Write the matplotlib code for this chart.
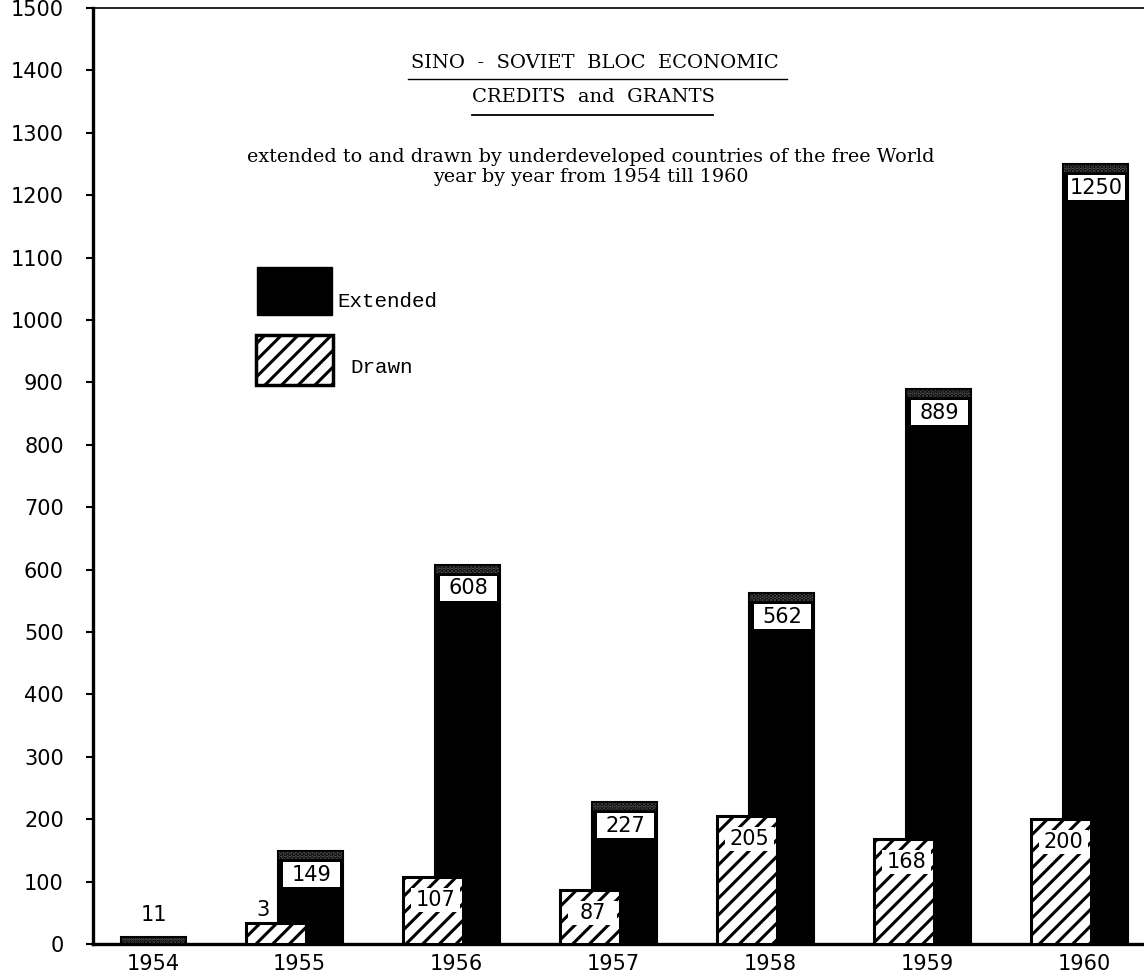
import numpy as np
import matplotlib
matplotlib.use("Agg")
import matplotlib.pyplot as plt
from matplotlib.patches import Rectangle

years = ["1954", "1955", "1956", "1957", "1958", "1959", "1960"]
extended = [11, 149, 608, 227, 562, 889, 1250]
drawn = [0, 33, 107, 87, 205, 168, 200]
drawn_text = ["", "3", "107", "87", "205", "168", "200"]
extended_text = ["11", "149", "608", "227", "562", "889", "1250"]
yticks = list(range(0, 1501, 100))

plt.rcParams["hatch.linewidth"] = 2.2

fig = plt.figure(figsize=(11.44, 9.74), dpi=100)
ax = fig.add_axes([93 / 1144, 30 / 974, 1051 / 1144, 936 / 974])

x = np.arange(len(years))
w_ext, w_dr = 0.41, 0.38
off_ext, off_dr = 0.102, -0.118
px = 1500 / 936  # data units per pixel (vertical)

# extended bars (behind)
ax.bar(x + off_ext, extended, width=w_ext, color="black", edgecolor="black",
       linewidth=1.5, zorder=2)
for xi, v in zip(x, extended):
    band = min(v, 9 * px)
    ax.add_patch(Rectangle((xi + off_ext - w_ext / 2, v - band), w_ext, band,
                           facecolor="#555555", edgecolor="black", linewidth=1.2,
                           hatch="....", zorder=3))

# drawn bars (in front)
ax.bar(x + off_dr, drawn, width=w_dr, color="white", edgecolor="black",
       hatch="//", linewidth=2.2, zorder=4)

# value boxes
for xi, v, t in zip(x, extended, extended_text):
    if v < 50:
        ax.text(xi + off_ext, v + 12 * px, t, ha="center", va="bottom",
                fontsize=15, zorder=6)
        continue
    left = xi + off_ext - w_ext / 2 + 0.03
    top = v - 11 * px
    h = 25 * px
    ax.add_patch(Rectangle((left, top - h), w_ext - 0.05, h, facecolor="white",
                           edgecolor="none", zorder=5))
    ax.text(left + (w_ext - 0.05) / 2, top - h / 2, t, ha="center", va="center",
            fontsize=15, zorder=6)

for xi, v, t in zip(x, drawn, drawn_text):
    if not t:
        continue
    if v < 50:
        ax.text(xi + off_dr - 0.08, v + 3 * px, t, ha="center", va="bottom",
                fontsize=15, zorder=6)
        continue
    left = xi + off_dr - w_dr / 2 + 0.05
    top = v - 11 * px
    h = 24 * px
    ax.add_patch(Rectangle((left, top - h), w_dr - 0.07, h, facecolor="white",
                           edgecolor="none", zorder=5))
    ax.text(left + (w_dr - 0.07) / 2, top - h / 2, t, ha="center", va="center",
            fontsize=15, zorder=6)

ax.set_xlim(-0.283, 6.41)
ax.set_ylim(0, 1500)
ax.set_yticks(yticks)
ax.set_yticklabels([str(t) for t in yticks], fontsize=15)
xt = x + 0.03
xt[0] = x[0] + off_ext
ax.set_xticks(xt)
ax.set_xticklabels(years, fontsize=15)
ax.tick_params(axis="y", direction="out", length=5, width=1.5, pad=16)
ax.tick_params(axis="x", length=0, pad=7)

ax.spines["right"].set_visible(False)
ax.spines["left"].set_linewidth(2.4)
ax.spines["bottom"].set_linewidth(2.4)
ax.spines["top"].set_linewidth(1.2)

# title block
serif = "DejaVu Serif"
ax.text(0.4776, 0.9412, "SINO  -  SOVIET  BLOC  ECONOMIC", transform=ax.transAxes,
        ha="center", va="center", fontsize=14, family=serif)
ax.plot([0.2997, 0.6603], [0.9241, 0.9241], transform=ax.transAxes,
        color="black", linewidth=1.0)
ax.text(0.4757, 0.9049, "CREDITS  and  GRANTS", transform=ax.transAxes,
        ha="center", va="center", fontsize=14, family=serif)
ax.plot([0.3606, 0.5899], [0.8857, 0.8857], transform=ax.transAxes,
        color="black", linewidth=1.3)
ax.text(0.4738, 0.8408,
        "extended to and drawn by underdeveloped countries of the free World",
        transform=ax.transAxes, ha="center", va="center", fontsize=13.8,
        family=serif)
ax.text(0.4738, 0.8195, "year by year from 1954 till 1960", transform=ax.transAxes,
        ha="center", va="center", fontsize=13.8, family=serif)

# legend
ax.add_patch(Rectangle((0.156, 0.672), 0.0714, 0.0513, transform=ax.transAxes,
                       facecolor="black", edgecolor="black", zorder=5))
ax.text(0.2322, 0.6859, "Extended", transform=ax.transAxes, ha="left",
        va="center", fontsize=15, family="Liberation Mono")
ax.add_patch(Rectangle((0.1551, 0.5972), 0.0733, 0.0534, transform=ax.transAxes,
                       facecolor="white", edgecolor="black", linewidth=2.5,
                       hatch="//", zorder=5))
ax.text(0.2445, 0.6154, "Drawn", transform=ax.transAxes, ha="left",
        va="center", fontsize=15, family="Liberation Mono")

fig.savefig("out.png", dpi=100)
